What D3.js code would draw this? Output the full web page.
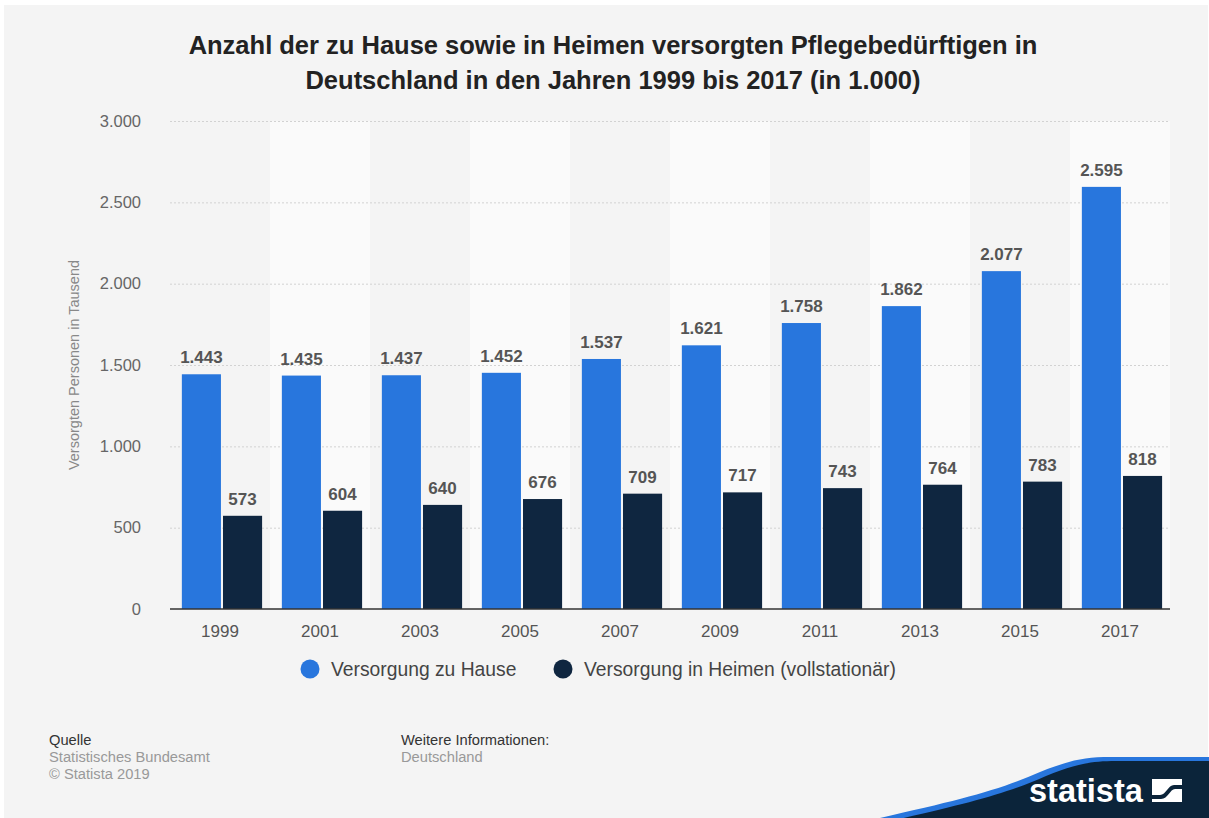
<!DOCTYPE html>
<html>
<head>
<meta charset="utf-8">
<script src="https://cdn.jsdelivr.net/npm/d3@7"></script>
<style>
  body { margin: 0; background: #fff; }
  svg { display: block; font-family: "Liberation Sans", Arial, sans-serif; }
</style>
</head>
<body>
<svg id="chart" width="1209" height="818"></svg>
<script>
// Data (values in 1.000)
const years = ["1999", "2001", "2003", "2005", "2007", "2009", "2011", "2013", "2015", "2017"];
const zuHause = [1443, 1435, 1437, 1452, 1537, 1621, 1758, 1862, 2077, 2595];
const inHeimen = [573, 604, 640, 676, 709, 717, 743, 764, 783, 818];
const seriesNames = ["Versorgung zu Hause", "Versorgung in Heimen (vollstationär)"];
const seriesColors = ["#2876dd", "#0f2640"];
const yTicks = [0, 500, 1000, 1500, 2000, 2500, 3000];

const svg = d3.select("#chart");
const width = 1209, height = 818;
const margin = { top: 121, right: 39, bottom: 209, left: 170 };
const fmt = d3.formatLocale({ decimal: ",", thousands: ".", grouping: [3], currency: ["", "€"] }).format(",");

// panel background
svg.append("rect")
  .attr("x", 4).attr("y", 5)
  .attr("width", width - 5).attr("height", height - 5)
  .attr("fill", "#f4f4f4");

// Title
const title = svg.append("text")
  .attr("text-anchor", "middle")
  .attr("font-weight", "bold")
  .attr("font-size", "25.5px")
  .attr("fill", "#222");
title.append("tspan").attr("x", 613).attr("y", 54)
  .text("Anzahl der zu Hause sowie in Heimen versorgten Pflegebedürftigen in");
title.append("tspan").attr("x", 613).attr("y", 89)
  .text("Deutschland in den Jahren 1999 bis 2017 (in 1.000)");

// Scales
const x = d3.scaleBand()
  .domain(years)
  .range([margin.left, width - margin.right]);

const xInner = d3.scaleBand()
  .domain([0, 1])
  .range([0, x.bandwidth()])
  .paddingInner(0.05)
  .paddingOuter(0.24)
  .align(0.6);

const y = d3.scaleLinear()
  .domain([0, 3000])
  .range([height - margin.bottom, margin.top]);

// Alternating column bands
svg.append("g")
  .selectAll("rect")
  .data(years)
  .enter()
  .append("rect")
  .attr("x", (d) => x(d))
  .attr("y", y(3000))
  .attr("width", x.bandwidth())
  .attr("height", y(0) - y(3000))
  .attr("fill", (d, i) => (i % 2 === 1 ? "#fafafa" : "#f4f4f4"));

// Grid lines + y labels
const yAxis = svg.append("g")
  .attr("transform", `translate(${margin.left},0)`)
  .call(
    d3.axisLeft(y)
      .tickValues(yTicks)
      .tickSize(-(width - margin.left - margin.right))
      .tickPadding(29)
      .tickFormat(fmt)
  );
yAxis.select(".domain").remove();
yAxis.selectAll(".tick line")
  .attr("stroke", (d) => (d === 0 ? "none" : "#d2d2d2"))
  .attr("stroke-dasharray", "2,2");
yAxis.selectAll(".tick text")
  .attr("font-size", "16.5px")
  .attr("fill", "#666");

// Y axis title
svg.append("text")
  .attr("transform", `translate(79,${y(1500)}) rotate(-90)`)
  .attr("text-anchor", "middle")
  .attr("font-size", "14.5px")
  .attr("fill", "#888")
  .text("Versorgten Personen in Tausend");

// Bars
const seriesData = [zuHause, inHeimen];
const groups = svg.append("g")
  .selectAll("g")
  .data(years)
  .enter()
  .append("g")
  .attr("transform", (d) => `translate(${x(d)},0)`);

groups.selectAll("rect")
  .data((d, i) => seriesData.map((s, k) => ({ k, v: s[i] })))
  .enter()
  .append("rect")
  .attr("x", (d) => xInner(d.k))
  .attr("y", (d) => y(d.v))
  .attr("width", xInner.bandwidth())
  .attr("height", (d) => y(0) - y(d.v))
  .attr("fill", (d) => seriesColors[d.k]);

groups.selectAll("text")
  .data((d, i) => seriesData.map((s, k) => ({ k, v: s[i] })))
  .enter()
  .append("text")
  .attr("x", (d) => xInner(d.k) + xInner.bandwidth() / 2)
  .attr("y", (d) => y(d.v) - 11)
  .attr("text-anchor", "middle")
  .attr("font-size", "17px")
  .attr("font-weight", "bold")
  .attr("fill", "#555")
  .text((d) => fmt(d.v));

// Baseline
svg.append("line")
  .attr("x1", margin.left).attr("x2", width - margin.right)
  .attr("y1", y(0)).attr("y2", y(0))
  .attr("stroke", "#333")
  .attr("stroke-width", 1.5);

// X labels
const xAxis = svg.append("g")
  .attr("transform", `translate(0,${y(0)})`)
  .call(d3.axisBottom(x).tickSize(0).tickPadding(16));
xAxis.select(".domain").remove();
xAxis.selectAll(".tick text")
  .attr("font-size", "17px")
  .attr("fill", "#555");

// Legend
const legendItems = [{ cx: 310, tx: 331 }, { cx: 563, tx: 584 }];
const legend = svg.append("g")
  .selectAll("g")
  .data(seriesNames)
  .enter()
  .append("g");
legend.append("circle")
  .attr("cx", (d, i) => legendItems[i].cx)
  .attr("cy", 669)
  .attr("r", 9.5)
  .attr("fill", (d, i) => seriesColors[i]);
legend.append("text")
  .attr("x", (d, i) => legendItems[i].tx)
  .attr("y", 676)
  .attr("font-size", "19.3px")
  .attr("fill", "#444")
  .text((d) => d);

// Footer
const footer = svg.append("g").attr("font-size", "14.7px");
footer.append("text").attr("x", 49).attr("y", 745).attr("fill", "#333").text("Quelle");
footer.append("text").attr("x", 49).attr("y", 762).attr("fill", "#999").text("Statistisches Bundesamt");
footer.append("text").attr("x", 49).attr("y", 779).attr("fill", "#999").text("© Statista 2019");
footer.append("text").attr("x", 401).attr("y", 745).attr("fill", "#333").text("Weitere Informationen:");
footer.append("text").attr("x", 401).attr("y", 762).attr("fill", "#999").text("Deutschland");

// Statista logo wave
const wave = "M880,818 C960,800 1000,790 1040,772 C1070,760 1085,757 1110,757 L1209,757 L1209,818 Z";
svg.append("path").attr("d", wave).attr("fill", "#2876dd");
svg.append("path")
  .attr("d", wave)
  .attr("transform", "translate(6,4)")
  .attr("fill", "#0b243a");
svg.append("text")
  .attr("x", 1029).attr("y", 802)
  .attr("font-size", "32.5px")
  .attr("font-weight", "bold")
  .attr("fill", "#fff")
  .text("statista");
const icon = svg.append("g").attr("transform", "translate(1152,779)");
icon.append("rect").attr("width", 30).attr("height", 23).attr("fill", "#fff");
icon.append("path")
  .attr("d", "M0,16 L8,16 C14,16 16,6 22,6 L30,6 L30,10 L23,10 C18,10 16,20 9,20 L0,20 Z")
  .attr("fill", "#0b243a");
</script>
</body>
</html>
